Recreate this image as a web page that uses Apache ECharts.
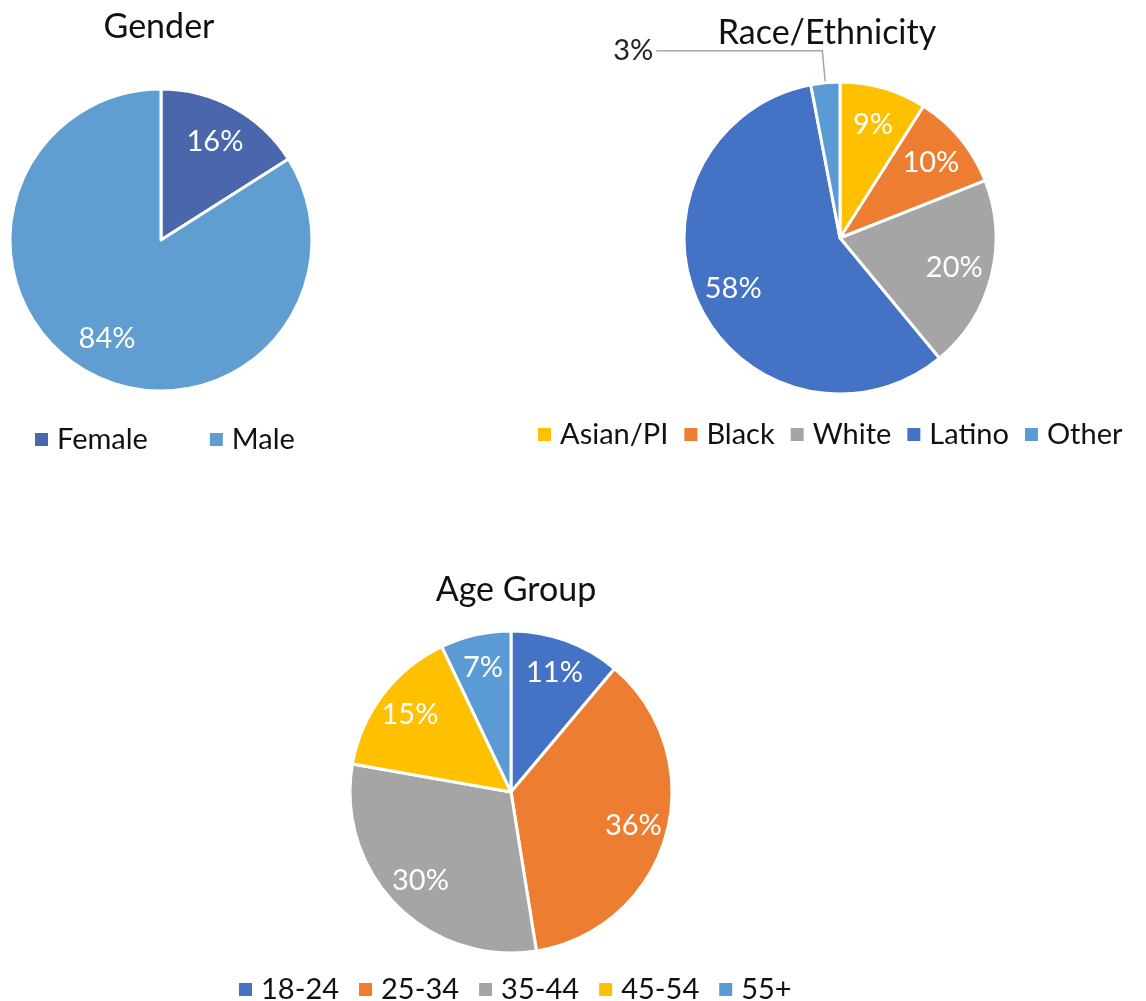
<!DOCTYPE html>
<html>
<head>
<meta charset="utf-8">
<script src="https://cdn.jsdelivr.net/npm/echarts@6/dist/echarts.min.js"></script>
<style>
  html, body { margin: 0; padding: 0; background: #fff; }
  #chart { width: 1146px; height: 1001px; }
</style>
</head>
<body>
<div id="chart"></div>
<script>
// data
const genderNames = ['Female', 'Male'];
const genderValues = [16, 84];
const genderColors = ['#4A67AD', '#609ED1'];

const raceNames = ['Asian/PI', 'Black', 'White', 'Latino', 'Other'];
const raceValues = [9, 10, 20, 58, 3];
const raceColors = ['#FFC000', '#ED7D31', '#A5A5A5', '#4472C4', '#5B9BD5'];
const raceOutside = ['Other'];

const ageNames = ['18-24', '25-34', '35-44', '45-54', '55+'];
const ageValues = [11, 36, 30, 15, 7];
const ageColors = ['#4472C4', '#ED7D31', '#A5A5A5', '#FFC000', '#5B9BD5'];

const FONT = 'Lato, "Open Sans", sans-serif';

const chart = echarts.init(document.getElementById('chart'));

// main pie: visible slices, only outside labels shown
function pie(names, values, colors, center, r, outside) {
  return {
    type: 'pie',
    center: center,
    radius: [0, r],
    startAngle: 90,
    clockwise: true,
    avoidLabelOverlap: false,
    silent: true,
    itemStyle: { borderColor: '#fff', borderWidth: 3 },
    label: { show: false },
    labelLine: { show: false },
    data: names.map((n, i) => {
      const item = { name: n, value: values[i], itemStyle: { color: colors[i] } };
      if (outside && outside.indexOf(n) >= 0) {
        item.label = {
          show: true, position: 'outside', formatter: '{c}%',
          color: '#222', fontSize: 29, fontFamily: FONT, distanceToLabelLine: 3
        };
        item.labelLine = { show: true, length: 32, length2: 166, lineStyle: { color: '#A6A6A6', width: 1.5 } };
      }
      return item;
    })
  };
}

// transparent overlay so that the inside labels sit further out from the center
function labels(names, values, center, r, skip) {
  return {
    type: 'pie',
    center: center,
    radius: [0, r],
    startAngle: 90,
    clockwise: true,
    silent: true,
    avoidLabelOverlap: false,
    labelLayout: { hideOverlap: false },
    itemStyle: { color: 'rgba(0,0,0,0)' },
    label: {
      show: true, position: 'inside', formatter: '{c}%',
      color: '#fff', fontSize: 29, fontFamily: FONT
    },
    data: names.map((n, i) => {
      const item = { name: n, value: values[i] };
      if (skip && skip.indexOf(n) >= 0) item.label = { show: false };
      return item;
    })
  };
}

const legendText = { fontSize: 29, fontFamily: FONT, color: '#111', padding: [0, 0, 0, 3] };
const titleText = { fontSize: 34, fontWeight: 'normal', fontFamily: FONT, color: '#111' };

chart.setOption({
  animation: false,
  backgroundColor: '#fff',
  title: [
    { text: 'Gender', left: 154, top: 5, textAlign: 'center', textStyle: titleText },
    { text: 'Race/Ethnicity', left: 822, top: 11, textAlign: 'center', textStyle: titleText },
    { text: 'Age Group', left: 511, top: 568, textAlign: 'center', textStyle: titleText }
  ],
  legend: [
    { data: genderNames, left: 28, top: 420, width: 400, itemWidth: 15, itemHeight: 15, itemGap: 60,
      icon: 'rect', textStyle: legendText },
    { data: raceNames, left: 531, top: 415, width: 615, itemWidth: 15, itemHeight: 15, itemGap: 14,
      icon: 'rect', textStyle: legendText },
    { data: ageNames, left: 232, top: 970, width: 700, itemWidth: 15, itemHeight: 15, itemGap: 18,
      icon: 'rect', textStyle: legendText }
  ],
  series: [
    pie(genderNames, genderValues, genderColors, [161, 240], 151),
    pie(raceNames, raceValues, raceColors, [840, 238], 156, raceOutside),
    pie(ageNames, ageValues, ageColors, [511, 792], 161),
    labels(genderNames, genderValues, [161, 240], 218),
    labels(raceNames, raceValues, [840, 238], 230, raceOutside),
    labels(ageNames, ageValues, [511, 792], 248)
  ]
});
</script>
</body>
</html>
